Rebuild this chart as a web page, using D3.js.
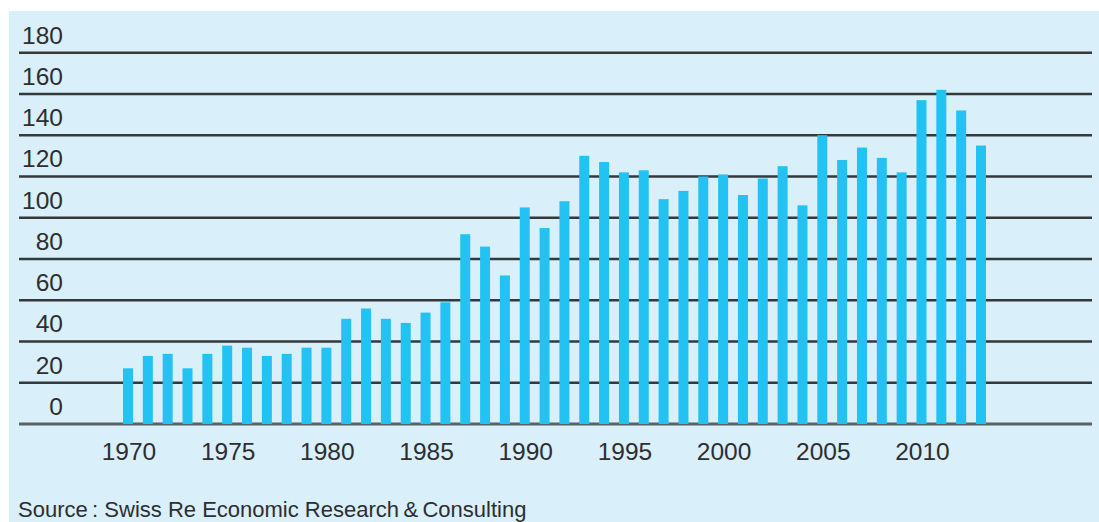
<!DOCTYPE html>
<html>
<head>
<meta charset="utf-8">
<script src="https://cdn.jsdelivr.net/npm/d3@7"></script>
<style>
  body { margin: 0; background: #fff; }
  svg { display: block; }
</style>
</head>
<body>
<div class="chart"></div>
<script>
// data
var years = d3.range(1970, 2014);
var values = [27, 33, 34, 27, 34, 38, 37, 33, 34, 37,
              37, 51, 56, 51, 49, 54, 59, 92, 86, 72,
              105, 95, 108, 130, 127, 122, 123, 109, 113, 120,
              121, 111, 119, 125, 106, 140, 128, 134, 129, 122,
              157, 162, 152, 135];
var yTicks = [0, 20, 40, 60, 80, 100, 120, 140, 160, 180];
var xTicks = [1970, 1975, 1980, 1985, 1990, 1995, 2000, 2005, 2010];
var sourceText = "Source\u2009: Swiss Re Economic Research\u2009&\u2009Consulting";

var width = 1099, height = 522,
    barWidth = 10;

var svg = d3.select(".chart").append("svg")
    .attr("width", width)
    .attr("height", height);

// panel background
svg.append("rect")
    .attr("x", 9)
    .attr("y", 11)
    .attr("width", width - 9)
    .attr("height", height - 11)
    .attr("fill", "#d9eff9");

var x = d3.scaleLinear().domain([1970, 2013]).range([128, 981]);
var y = d3.scaleLinear().domain([0, 180]).range([424, 52.7]);

// grid lines
svg.append("g")
  .selectAll("line")
  .data(yTicks)
  .enter()
  .append("line")
    .attr("x1", 19)
    .attr("x2", 1092)
    .attr("y1", d => y(d))
    .attr("y2", d => y(d))
    .attr("stroke", d => d === 0 ? "#5a6266" : "#34393c")
    .attr("stroke-width", d => d === 0 ? 3 : 2.4);

// y labels sit above their line
svg.append("g")
  .selectAll("text")
  .data(yTicks)
  .enter()
  .append("text")
    .attr("x", 63)
    .attr("y", d => y(d) - 9)
    .attr("text-anchor", "end")
    .attr("font-family", "Liberation Sans, Arial, sans-serif")
    .attr("font-size", "24.5px")
    .attr("fill", "#2d2d33")
    .text(d => d);

// bars
svg.append("g")
  .selectAll("rect")
  .data(values)
  .enter()
  .append("rect")
    .attr("x", (d, i) => x(years[i]) - barWidth / 2)
    .attr("y", d => y(d))
    .attr("width", barWidth)
    .attr("height", d => y(0) - y(d))
    .attr("fill", "#22c3f2");

// x labels
svg.append("g")
  .selectAll("text")
  .data(xTicks)
  .enter()
  .append("text")
    .attr("x", d => x(d) + 1)
    .attr("y", 460)
    .attr("text-anchor", "middle")
    .attr("font-family", "Liberation Sans, Arial, sans-serif")
    .attr("font-size", "24.5px")
    .attr("fill", "#2d2d33")
    .text(d => d);

svg.append("text")
    .attr("x", 18)
    .attr("y", 517)
    .attr("font-family", "Liberation Sans, Arial, sans-serif")
    .attr("font-size", "22px")
    .attr("fill", "#2d2d33")
    .text(sourceText);
</script>
</body>
</html>
